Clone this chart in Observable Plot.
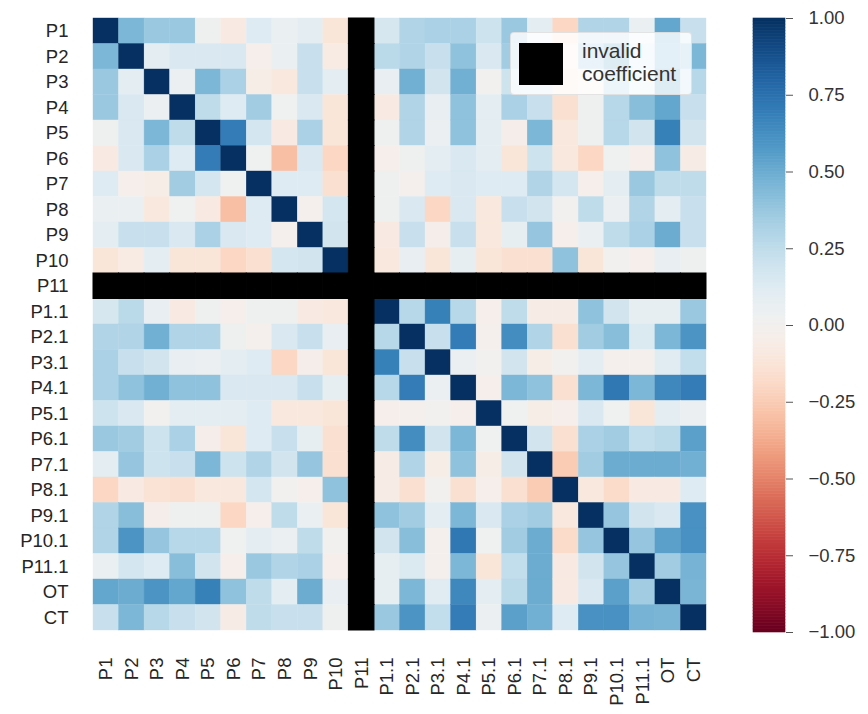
<!DOCTYPE html>
<html><head><meta charset="utf-8">
<script src="https://cdn.jsdelivr.net/npm/d3@7"></script>
<script src="https://cdn.jsdelivr.net/npm/@observablehq/plot@0.6"></script>
<style>
body{margin:0;background:#fff;}
#wrap{position:relative;width:868px;height:714px;font-family:"Liberation Sans",Arial,sans-serif;}
#wrap svg{position:absolute;left:0;top:0;}
.legend{position:absolute;left:510px;top:32px;width:182px;height:63px;background:rgba(255,255,255,0.82);border-radius:4px;border:1px solid rgba(215,215,215,0.7);box-sizing:border-box;}
.legend .sw{position:absolute;left:8px;top:10px;width:44px;height:42px;background:#000;}
.legend .tx{position:absolute;left:71px;top:6px;font-size:21px;line-height:23px;color:#333;}
</style>
</head><body>
<div id="wrap"></div>
<script>
const labels = ["P1","P2","P3","P4","P5","P6","P7","P8","P9","P10","P11",
  "P1.1","P2.1","P3.1","P4.1","P5.1","P6.1","P7.1","P8.1","P9.1","P10.1","P11.1","OT","CT"];
const invalidLabel = "P11";
// lower triangle of the correlation matrix (row i, columns j < i); null = invalid
const lower = [
  [],
  [0.45],
  [0.37, 0.10],
  [0.37, 0.15, 0.05],
  [0.03, 0.15, 0.45, 0.25],
  [-0.08, 0.15, 0.32, 0.12, 0.70],
  [0.12, -0.03, -0.05, 0.35, 0.17, 0.02],
  [0.06, 0.06, -0.10, 0.02, -0.08, -0.30, 0.12],
  [0.10, 0.22, 0.22, 0.15, 0.32, 0.15, 0.12, -0.02],
  [-0.12, -0.07, 0.10, -0.12, -0.12, -0.20, -0.15, 0.17, 0.18],
  [null, null, null, null, null, null, null, null, null, null],
  [0.16, 0.27, 0.07, -0.08, 0.03, -0.03, 0.03, 0.03, -0.08, -0.10, null],
  [0.30, 0.30, 0.48, 0.30, 0.30, 0.03, -0.02, 0.15, 0.22, 0.07, null, 0.28],
  [0.32, 0.22, 0.18, 0.07, 0.05, 0.10, 0.12, -0.20, -0.04, -0.12, null, 0.68, 0.22],
  [0.32, 0.40, 0.48, 0.40, 0.40, 0.15, 0.15, 0.15, 0.22, 0.08, null, 0.28, 0.70, 0.05],
  [0.20, 0.15, 0.01, 0.10, 0.10, 0.10, 0.12, -0.10, -0.10, -0.12, null, -0.03, -0.02, 0.01, -0.03],
  [0.37, 0.35, 0.20, 0.32, -0.04, -0.12, 0.12, 0.22, 0.08, -0.15, null, 0.25, 0.63, 0.18, 0.45, 0.02],
  [0.10, 0.38, 0.20, 0.22, 0.45, 0.20, 0.30, 0.18, 0.38, -0.15, null, -0.06, 0.30, -0.05, 0.40, -0.05, 0.18],
  [-0.20, -0.08, -0.14, -0.15, -0.10, -0.10, 0.17, 0.01, -0.03, 0.40, null, -0.06, -0.15, 0.01, -0.15, -0.03, -0.15, -0.25],
  [0.30, 0.42, -0.04, 0.03, 0.03, -0.20, -0.03, 0.25, 0.06, -0.12, null, 0.40, 0.35, 0.10, 0.45, 0.15, 0.32, 0.35, -0.10],
  [0.30, 0.60, 0.38, 0.28, 0.28, 0.02, 0.10, 0.05, 0.25, 0.01, null, 0.18, 0.42, -0.02, 0.72, 0.02, 0.35, 0.50, -0.18, 0.38],
  [0.06, 0.17, 0.12, 0.42, 0.18, -0.03, 0.37, 0.30, 0.32, -0.03, null, 0.08, 0.14, -0.02, 0.45, -0.12, 0.24, 0.50, -0.08, 0.18, 0.38],
  [0.52, 0.50, 0.60, 0.52, 0.68, 0.40, 0.25, 0.10, 0.50, 0.07, null, 0.08, 0.45, 0.11, 0.65, 0.10, 0.27, 0.50, -0.08, 0.15, 0.55, 0.35],
  [0.22, 0.45, 0.28, 0.22, 0.18, -0.06, 0.25, 0.22, 0.22, 0.03, null, 0.37, 0.60, 0.24, 0.70, 0.05, 0.55, 0.48, 0.12, 0.61, 0.61, 0.47, 0.46]
];
const colorTicks = [-1, -0.75, -0.5, -0.25, 0, 0.25, 0.5, 0.75, 1];

const inv = labels.indexOf(invalidLabel);
const valid = [], invalid = [];
labels.forEach((rl, i) => labels.forEach((cl, j) => {
  if (i === inv || j === inv) { invalid.push({row: rl, col: cl}); return; }
  const v = i === j ? 1 : (i > j ? lower[i][j] : lower[j][i]);
  valid.push({row: rl, col: cl, value: v});
}));

const colorOpt = {type: "linear", domain: [-1, 1], scheme: "RdBu"};
const font = {fontFamily: "Liberation Sans, Arial, sans-serif", fontSize: "18.5px", color: "#262626", background: "transparent"};

const main = Plot.plot({
  width: 868, height: 714,
  marginLeft: 93, marginRight: 162, marginTop: 18, marginBottom: 84,
  style: font,
  x: {domain: labels, padding: 0, round: false, tickRotate: -90, tickSize: 0, tickPadding: 27, label: null},
  y: {domain: labels, padding: 0, round: false, tickSize: 0, tickPadding: 25, label: null},
  color: colorOpt,
  marks: [
    Plot.cell(valid, {x: "col", y: "row", fill: "value", stroke: "value", strokeWidth: 0.4, inset: 0}),
    Plot.cell(invalid, {x: "col", y: "row", fill: "black", stroke: "black", strokeWidth: 1, inset: 0})
  ]
});

const steps = d3.range(200).map(k => -1 + k / 100);
const bar = Plot.plot({
  width: 868, height: 714,
  marginLeft: 753, marginRight: 83, marginTop: 18, marginBottom: 82,
  style: {...font, color: "#333"},
  x: {domain: [0, 1], axis: null},
  y: {domain: [-1, 1], axis: null},
  color: colorOpt,
  marks: [
    Plot.rect(steps, {x1: 0, x2: 1, y1: d => d, y2: d => d + 0.01, fill: d => d + 0.005, stroke: d => d + 0.005, strokeWidth: 0.6}),
    Plot.axisY({anchor: "right", ticks: colorTicks, tickFormat: d3.format(".2f"), tickSize: 7, tickPadding: 16, stroke: "#555", fill: "#333", label: null})
  ]
});

const wrap = document.getElementById("wrap");
wrap.appendChild(main);
wrap.appendChild(bar);
const lg = document.createElement("div");
lg.className = "legend";
lg.innerHTML = '<div class="sw"></div><div class="tx">invalid<br>coefficient</div>';
wrap.appendChild(lg);
</script>
</body></html>
